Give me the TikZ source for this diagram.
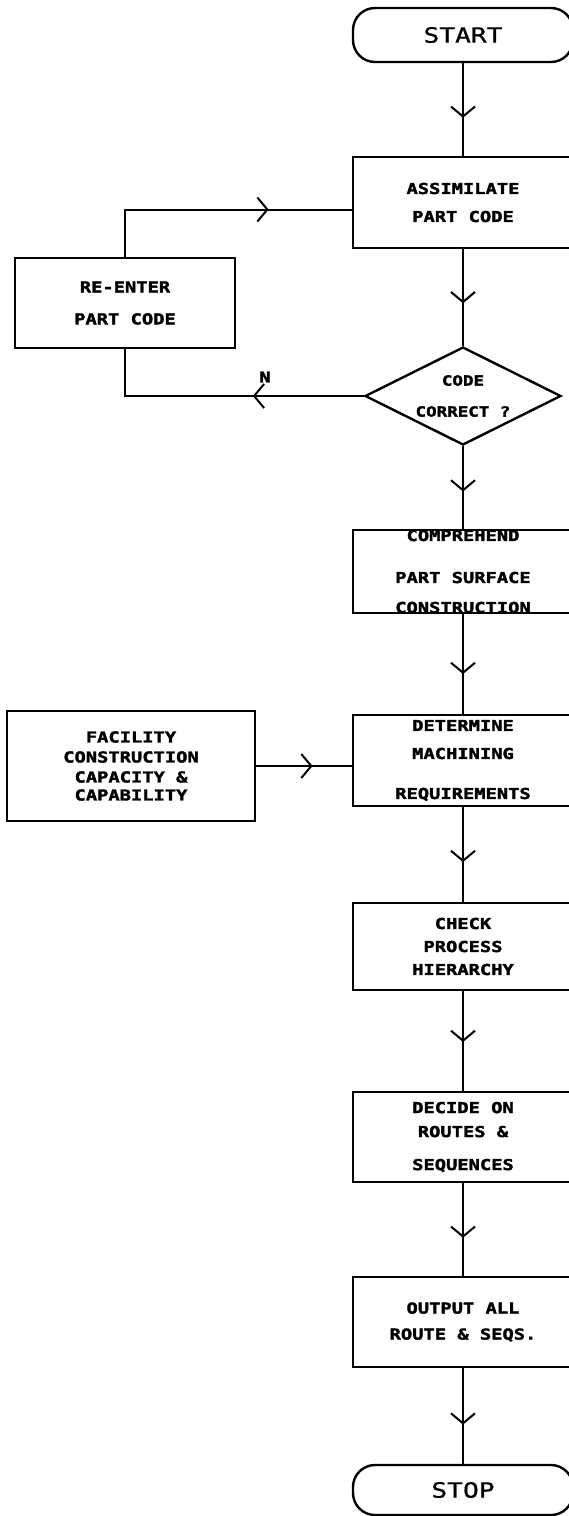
\documentclass[tikz,border=0pt]{standalone}
\usepackage{fontspec}
\usepackage{tikz}
\usetikzlibrary{arrows.meta,decorations.markings,shapes.geometric}
\newfontfamily\plotfont[FakeStretch=1.25,FakeBold=0.8,BoldFeatures={FakeBold=2.2}]{DejaVu Sans Mono}

\begin{document}
\begin{tikzpicture}[x=1pt,y=-1pt,
    box/.style={draw,rectangle,line width=2.4pt,minimum width=220pt,inner sep=0pt,align=center,
        font=\plotfont\bfseries\fontsize{15}{17}\selectfont},
    term/.style={draw,rectangle,rounded corners=22pt,line width=2.4pt,minimum width=220pt,
        font=\plotfont\fontsize{21}{24}\selectfont},
    decide/.style={draw,diamond,aspect=2,line width=2.4pt,minimum width=196pt,minimum height=98pt,
        inner sep=0pt,align=center,font=\plotfont\bfseries\fontsize{14}{17}\selectfont},
    link/.style={line width=2pt},
    flowmark/.style={decoration={markings,mark=at position #1 with
        {\arrow{Straight Barb[length=10pt,width=24pt]}}},postaction={decorate}}]
    \useasboundingbox (0,0) rectangle (569,1516);
    % main column
    \node [term,minimum height=54pt] (start) at (463,35) {START};
    \node [box,minimum height=91pt] (assim) at (463,202.5) {ASSIMILATE\\[11pt]PART CODE};
    \node [decide] (check) at (463,396) {CODE\\[14pt]CORRECT ?};
    \node [box,minimum height=83pt] (compr) at (463,571.5) {COMPREHEND\\[25pt]PART SURFACE\\[13pt]CONSTRUCTION};
    \node [box,minimum height=91pt] (determ) at (463,760.5) {DETERMINE\\[11pt]MACHINING\\[23pt]REQUIREMENTS};
    \node [box,minimum height=87pt] (hier) at (463,946.5) {CHECK\\[6pt]PROCESS\\[6pt]HIERARCHY};
    \node [box,minimum height=90pt] (routes) at (463,1137) {DECIDE ON\\[7pt] ROUTES \&\\[16pt]SEQUENCES};
    \node [box,minimum height=90pt] (output) at (463,1322) {OUTPUT ALL\\[9pt]ROUTE \& SEQS.};
    \node [term,minimum height=50pt] (stop) at (463,1490) {STOP};
    % side boxes
    \node [box,minimum width=220pt,minimum height=90pt] (reenter) at (125,303) {RE-ENTER\\[15pt]PART CODE};
    \node [box,minimum width=248pt,minimum height=110pt] (facil) at (131,766) {FACILITY\\[3pt]CONSTRUCTION\\[3pt] CAPACITY \&\\[1pt]CAPABILITY};
    \node [font=\plotfont\bfseries\fontsize{15}{17}\selectfont] (no) at (265,377) {N};
    % connectors
    \draw [link,flowmark=0.59] (start) -- (assim);
    \draw [link,flowmark=0.56] (assim) -- (check);
    \draw [link,flowmark=0.55] (check) -- (compr);
    \draw [link,flowmark=0.6] (compr) -- (determ);
    \draw [link,flowmark=0.58] (determ) -- (hier);
    \draw [link,flowmark=0.51] (hier) -- (routes);
    \draw [link,flowmark=0.59] (routes) -- (output);
    \draw [link,flowmark=0.59] (output) -- (stop);
    \draw [link,flowmark=111pt] (check.west) -| (reenter.south);
    \draw [link,flowmark=191pt] (reenter.north) |- ([yshift=-7pt]assim.west);
    \draw [link,flowmark=0.59] (facil.east) -- (facil.east -| determ.west);
\end{tikzpicture}
\end{document}
